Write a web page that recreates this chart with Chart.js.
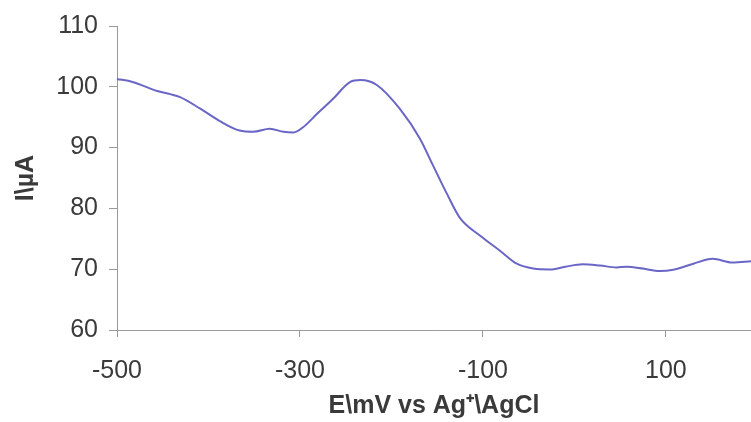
<!DOCTYPE html>
<html>
<head>
<meta charset="utf-8">
<script src="https://cdn.jsdelivr.net/npm/chart.js@4/dist/chart.umd.min.js"></script>
<style>
  body { margin: 0; background: #fff; }
</style>
</head>
<body>
<canvas id="chart" width="751" height="422"></canvas>
<script>
'use strict';

// potential in mV
const potential = [-500, -483, -456, -442, -431, -409, -387, -366, -351, -333, -318, -307, -297, -281, -264, -245, -234, -216, -191, -169, -155, -139, -125, -103, -81, -63, -45, -27, -10, 9, 28, 46, 57, 75, 93, 108, 130, 151, 173, 193];
// current in uA
const current = [101.3, 100.8, 99.3, 98.8, 98.3, 96.4, 94.3, 92.8, 92.6, 93.1, 92.6, 92.5, 93.3, 95.6, 98.0, 100.8, 101.1, 100.3, 96.4, 91.5, 87.2, 82.3, 78.4, 75.5, 73.0, 70.9, 70.1, 69.95, 70.4, 70.8, 70.6, 70.3, 70.4, 70.1, 69.7, 69.9, 70.9, 71.7, 71.1, 71.3];

const xTicks = [-500, -300, -100, 100];
const yTicks = [60, 70, 80, 90, 100, 110];

let points = [];
for (let i = 0; i < potential.length; i++) {
  points.push({ x: potential[i], y: current[i] });
}

const axisColor = '#9a9a9a';
const textColor = '#3a3a3a';
const fontFamily = "'Liberation Sans', Arial, sans-serif";

const ctx = document.getElementById('chart').getContext('2d');

let myChart = new Chart(ctx, {
  type: 'scatter',
  data: {
    datasets: [{
      data: points,
      showLine: true,
      borderColor: '#6a66c6',
      borderWidth: 2,
      pointRadius: 0,
      tension: 0.4,
      cubicInterpolationMode: 'monotone',
      clip: false
    }]
  },
  options: {
    responsive: false,
    animation: false,
    layout: { padding: { top: 23, right: 0, left: 0, bottom: 0 } },
    plugins: { legend: { display: false }, tooltip: { enabled: false } },
    scales: {
      x: {
        type: 'linear',
        min: -500,
        max: 193,
        afterBuildTicks: (scale) => { scale.ticks = xTicks.map(v => ({ value: v })); },
        afterFit: (scale) => { scale.height = 92; },
        border: { color: axisColor, width: 1 },
        grid: { drawOnChartArea: false, color: axisColor, tickLength: 7 },
        ticks: { color: textColor, font: { family: fontFamily, size: 25 }, padding: 19, maxRotation: 0 },
        title: {
          display: true,
          text: 'E\\mV vs Ag\u207A\\AgCl',
          color: textColor,
          font: { family: fontFamily, size: 25, weight: 'bold' },
          padding: { top: 0, bottom: 1 }
        }
      },
      y: {
        min: 60,
        max: 110,
        afterBuildTicks: (scale) => { scale.ticks = yTicks.map(v => ({ value: v })); },
        afterFit: (scale) => { scale.width = 117; },
        border: { color: axisColor, width: 1 },
        grid: { drawOnChartArea: false, color: axisColor, tickLength: 8 },
        ticks: { color: textColor, font: { family: fontFamily, size: 25 }, padding: 11 },
        title: {
          display: true,
          text: 'I\\\u00B5A',
          color: textColor,
          font: { family: fontFamily, size: 25, weight: 'bold' },
          padding: { top: 11, bottom: 0 }
        }
      }
    }
  }
});
</script>
</body>
</html>
